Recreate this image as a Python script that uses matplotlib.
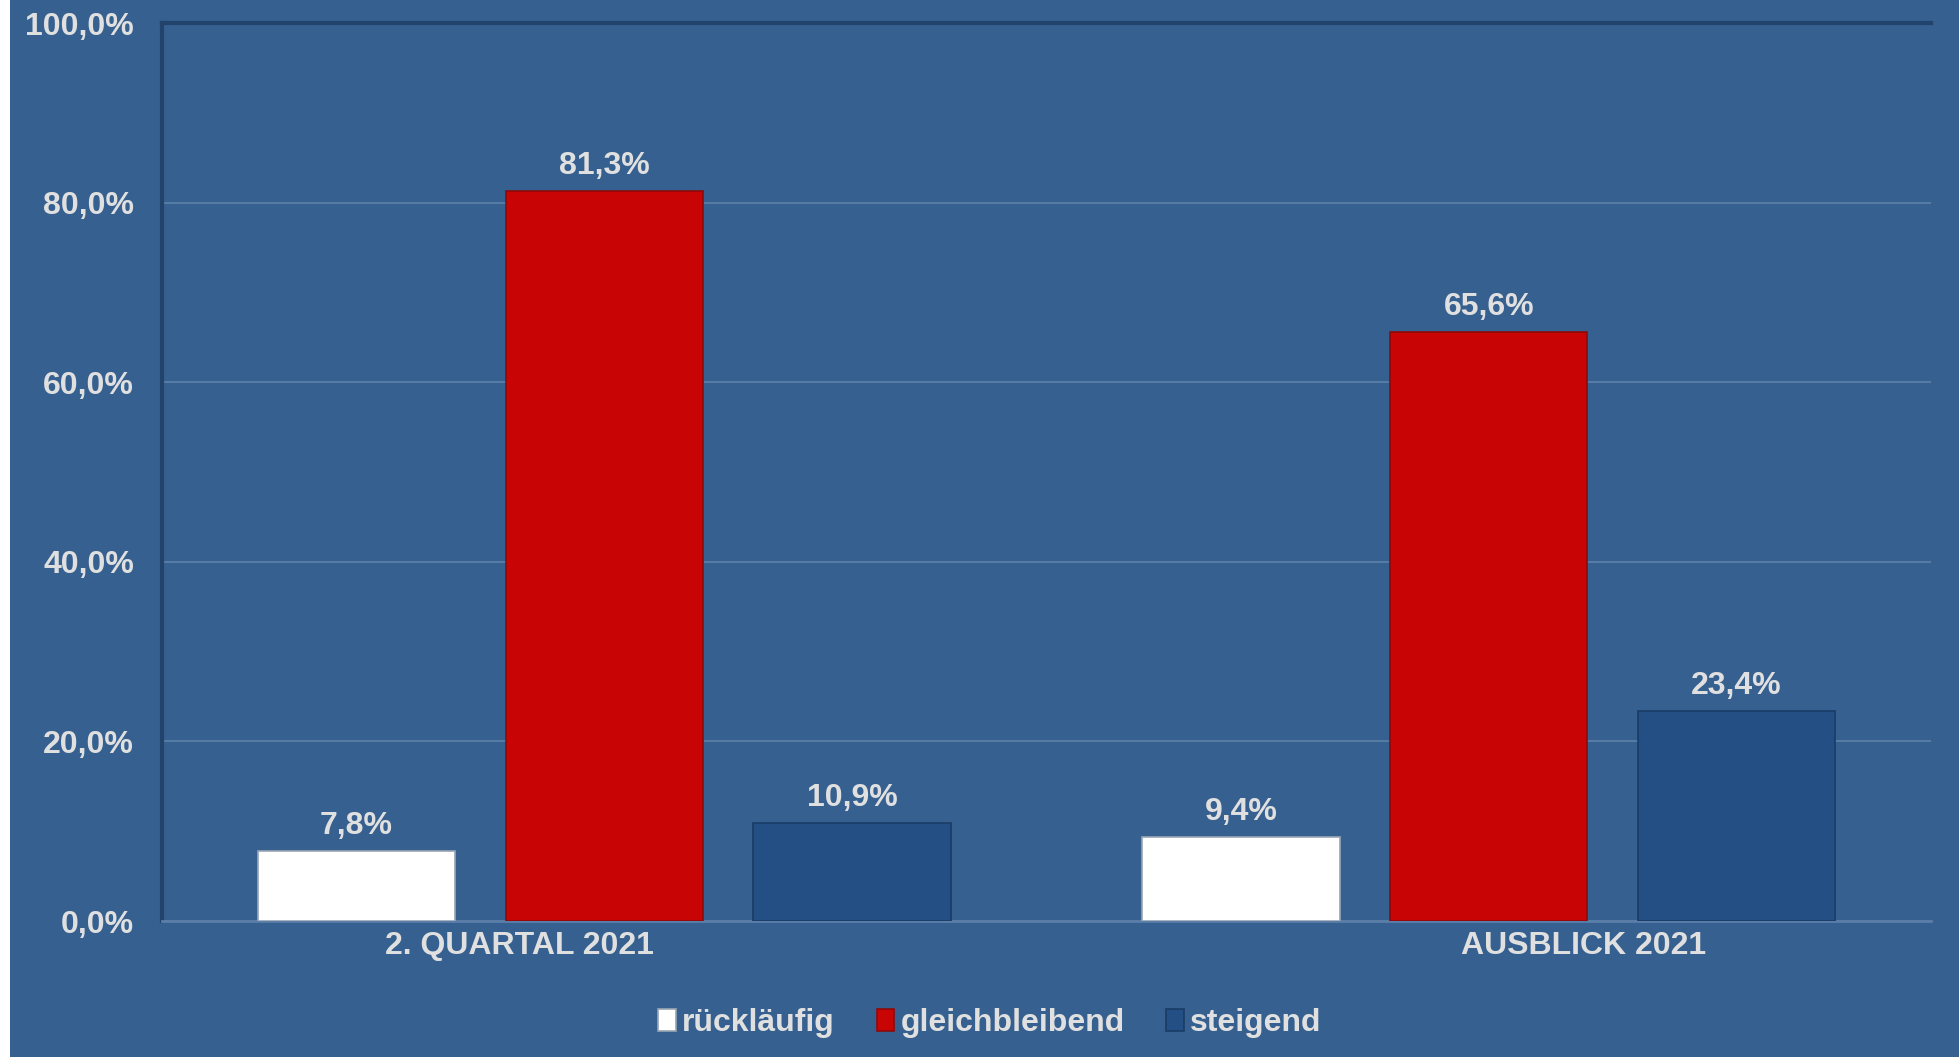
import matplotlib
matplotlib.use("Agg")
import matplotlib.pyplot as plt
from matplotlib.patches import Rectangle
import numpy as np

categories = ["2. QUARTAL 2021", "AUSBLICK 2021"]
series_names = ["rückläufig", "gleichbleibend", "steigend"]
ruecklaeufig = [7.8, 9.4]
gleichbleibend = [81.3, 65.6]
steigend = [10.9, 23.4]
yticks = [0, 20, 40, 60, 80, 100]

BG = "#36608F"
TXT = "#E0E0E0"
colors = ["#FFFFFF", "#C80404", "#244F84"]
edges = ["#9AA6B4", "#8E0A0A", "#1A3C66"]
FS = 23

plt.rcParams['font.family'] = ['Liberation Sans', 'DejaVu Sans']
plt.rcParams['font.weight'] = 'bold'

fig = plt.figure(figsize=(19.59, 10.57), dpi=100, facecolor=BG)
fig.patches.append(Rectangle((0, 0), 10 / 1959, 1, transform=fig.transFigure,
                             facecolor="white", edgecolor="none", zorder=0))
ax = fig.add_axes([162 / 1959, 1 - 921 / 1057, (1931 - 162) / 1959, (921 - 23) / 1057])
ax.set_facecolor(BG)

x = np.arange(len(categories))
width = 0.223
offsets = [-0.28, 0.0, 0.28]
data = [ruecklaeufig, gleichbleibend, steigend]
for name, vals, off, c, ec in zip(series_names, data, offsets, colors, edges):
    bars = ax.bar(x + off, vals, width, color=c, edgecolor=ec, linewidth=1.2,
                  label=name, zorder=3)
    ax.bar_label(bars, labels=[f"{v:.1f}%".replace(".", ",") for v in vals],
                 padding=7, color=TXT, fontsize=FS, fontweight='bold')

ax.set_xlim(-0.5, 1.5)
ax.set_ylim(0, 100)
ax.set_yticks(yticks)
ax.set_yticklabels([f"{v:.1f}%".replace(".", ",") for v in yticks])
ax.grid(axis='y', color="#5A7EA8", linewidth=1.3, zorder=1)
ax.set_axisbelow(True)
ax.tick_params(axis='y', length=0, pad=20, labelsize=FS, labelcolor=TXT)
# category labels (positioned as in the original)
ax.set_xticks([-0.096, 1.107])
ax.set_xticklabels(categories)
ax.tick_params(axis='x', length=0, pad=7, labelsize=FS, labelcolor=TXT)
for lbl in ax.get_xticklabels() + ax.get_yticklabels():
    lbl.set_fontweight('bold')

for s in ['top', 'right']:
    ax.spines[s].set_visible(False)
ax.spines['left'].set_color("#22436B")
ax.spines['left'].set_linewidth(3)
ax.spines['bottom'].set_color("#5A7EA8")
ax.spines['bottom'].set_linewidth(2)
# shadow line at the top of the plot area
ax.axhline(100, color="#22436B", linewidth=3, zorder=2, clip_on=False)

leg = fig.legend(loc='center', bbox_to_anchor=(990 / 1959, 1 - 1023 / 1057), ncol=3,
                 frameon=False, fontsize=FS, handlelength=0.55, handleheight=0.7,
                 handletextpad=0.2, columnspacing=1.3)
for t in leg.get_texts():
    t.set_color(TXT)
    t.set_fontweight('bold')

fig.savefig("out.png", dpi=100, facecolor=BG)
